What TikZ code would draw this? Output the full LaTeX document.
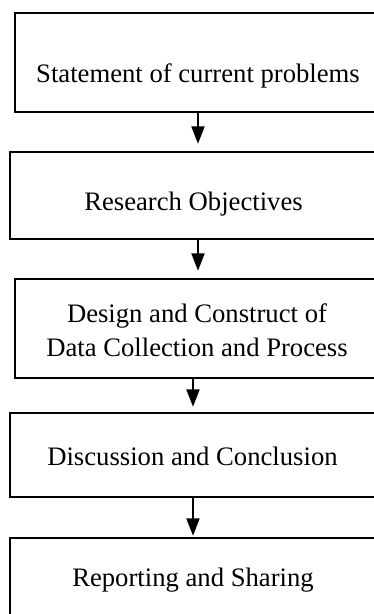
\documentclass[tikz,border=0pt]{standalone}
\usepackage{fontspec}
\setmainfont{Liberation Serif}
\usetikzlibrary{arrows.meta,positioning}

\tikzset{
  stagebox/.style={draw, line width=1.9pt, inner sep=0pt},
  stagetext/.style={anchor=base, inner sep=0pt, align=center,
    font=\fontsize{20}{26}\selectfont},
  flow/.style={line width=1.4pt, -{Triangle[width=9.75pt,length=13pt]}}
}

\begin{document}
\begin{tikzpicture}[x=0.75pt,y=0.75pt,yscale=-1,xscale=1]
\useasboundingbox (0,0) rectangle (374,614);
\clip (0,0) rectangle (374,614);

%Boxes
\node [stagebox, minimum width=366*0.75pt, minimum height=99*0.75pt] (p1) at (198,62.5) {};
\node [stagebox, minimum width=376*0.75pt, minimum height=87*0.75pt] (p2) at (198,195.5) {};
\node [stagebox, minimum width=366*0.75pt, minimum height=99*0.75pt] (p3) at (198,328.5) {};
\node [stagebox, minimum width=366*0.75pt, minimum height=84*0.75pt] (p4) at (193,455) {};
\node [stagebox, minimum width=366*0.75pt, minimum height=92*0.75pt] (p5) at (193,584) {};

% Text Node
\node [stagetext] (t1) at (198,82) {Statement of current problems};
% Text Node
\node [stagetext] (t2) at (193.5,210) {Research Objectives};
% Text Node (base sits on the last line)
\node [stagetext] (t3) at (197,356.7) {Design and Construct of\\Data Collection and Process};
% Text Node
\node [stagetext] (t4) at (192.5,465) {Discussion and Conclusion};
% Text Node
\node [stagetext] (t5) at (193,586.7) {Reporting and Sharing};

%Arrows
\draw [flow, shorten >=5.25pt] (p1.south) -- (p2.north);
\draw [flow, shorten >=5.25pt] (p2.south) -- (p3.north);
\draw [flow, shorten >=3.75pt] (p3.south -| p4.north) -- (p4.north);
\draw [flow, shorten >=0.75pt] (p4.south) -- (p5.north);

\end{tikzpicture}
\end{document}
